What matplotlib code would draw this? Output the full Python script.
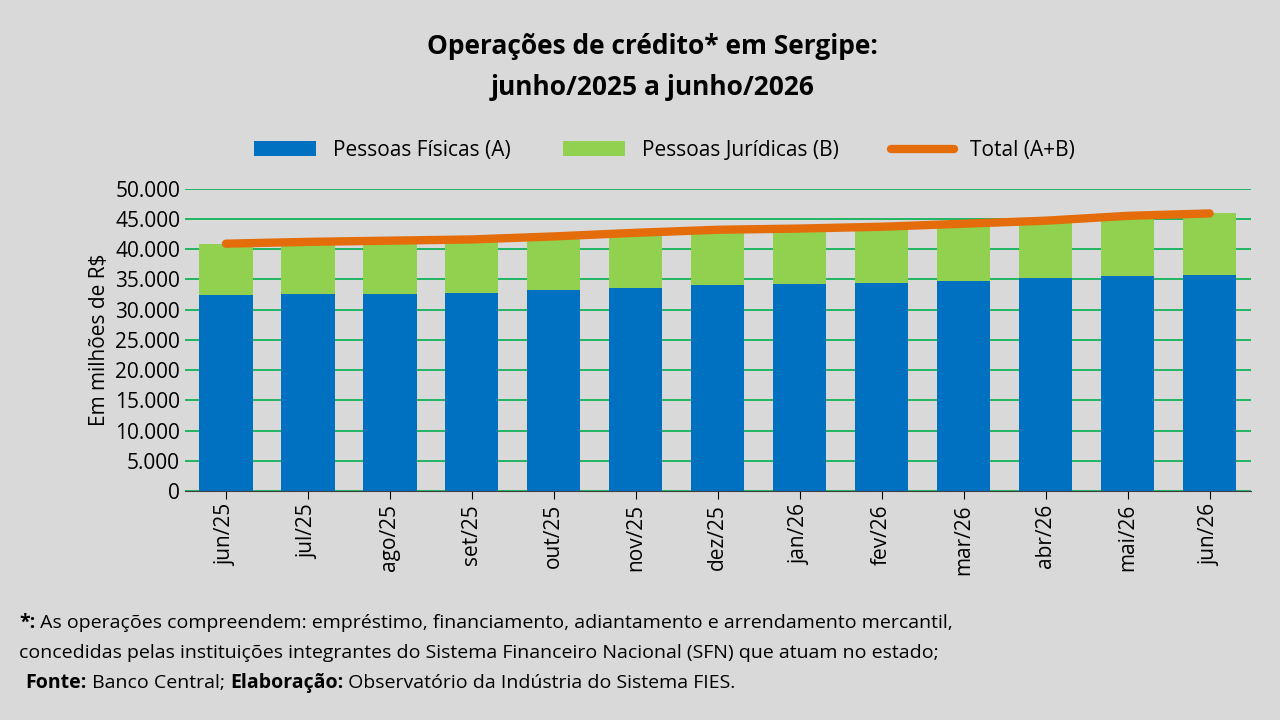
import numpy as np
import matplotlib.pyplot as plt
from matplotlib.ticker import FuncFormatter

meses = ['jun/25', 'jul/25', 'ago/25', 'set/25', 'out/25', 'nov/25', 'dez/25',
         'jan/26', 'fev/26', 'mar/26', 'abr/26', 'mai/26', 'jun/26']
pf = [32400, 32600, 32600, 32800, 33300, 33600, 34100, 34300, 34400, 34800, 35300, 35600, 35700]
total = [40900, 41200, 41400, 41600, 42100, 42700, 43200, 43400, 43700, 44200, 44700, 45500, 45900]
pj = [t - p for t, p in zip(total, pf)]

plt.rcParams['font.family'] = ['Open Sans', 'DejaVu Sans']
bg = '#D9D9D9'
fig = plt.figure(figsize=(12.8, 7.2), dpi=100, facecolor=bg)
ax = fig.add_axes([0.1445, 0.318, 0.8325, 0.42], facecolor=bg)

x = np.arange(len(meses))
ax.bar(x, pf, width=0.65, color='#0070C0', label='Pessoas Físicas (A)', zorder=2)
ax.bar(x, pj, bottom=pf, width=0.65, color='#92D050', label='Pessoas Jurídicas (B)', zorder=2)
ax.plot(x, total, color='#E46C0A', lw=6, solid_capstyle='round', label='Total (A+B)', zorder=3)

ax.set_ylim(0, 50000)
ax.set_xlim(-0.5, len(meses) - 0.5)
ax.set_yticks(np.arange(0, 50001, 5000))
ax.yaxis.set_major_formatter(FuncFormatter(lambda v, p: f'{int(v):,}'.replace(',', '.')))
ax.grid(axis='y', color='#00B050', lw=1.2, zorder=1)
ax.set_xticks(x)
ax.set_xticklabels(meses, rotation=90, fontsize=15)
ax.tick_params(axis='y', labelsize=15, length=0)
ax.tick_params(axis='x', length=6)
for s in ['top', 'right', 'left']:
    ax.spines[s].set_visible(False)
ax.spines['bottom'].set_color('#404040')
ax.set_ylabel('Em milhões de R$', fontsize=15)

h, l = ax.get_legend_handles_labels()
order = [1, 2, 0]
ax.legend([h[i] for i in order], [l[i] for i in order], loc='lower center',
          bbox_to_anchor=(0.45, 1.03), ncol=3, frameon=False,
          fontsize=15, handlelength=3, columnspacing=2.5)

fig.text(0.51, 0.935, 'Operações de crédito* em Sergipe:', ha='center', va='center',
         fontsize=19, fontweight='bold')
fig.text(0.51, 0.878, 'junho/2025 a junho/2026', ha='center', va='center',
         fontsize=19, fontweight='bold')

renderer = fig.canvas.get_renderer()


def text_row(x0, y0, parts):
    # parts: list of (text, bold)
    xc = x0
    for txt, bold in parts:
        t = fig.text(xc, y0, txt, fontsize=14, va='center',
                     fontweight='bold' if bold else 'normal')
        bb = t.get_window_extent(renderer=renderer)
        xc += bb.width / fig.bbox.width


text_row(0.015, 0.135, [('*:', True), (' As operações compreendem: empréstimo, financiamento, '
                                       'adiantamento e arrendamento mercantil,', False)])
text_row(0.015, 0.093, [('concedidas pelas instituições integrantes do Sistema Financeiro '
                         'Nacional (SFN) que atuam no estado;', False)])
text_row(0.02, 0.052, [('Fonte:', True), (' Banco Central; ', False), ('Elaboração:', True),
                       (' Observatório da Indústria do Sistema FIES.', False)])

fig.savefig('out.png', dpi=100, facecolor=bg)
